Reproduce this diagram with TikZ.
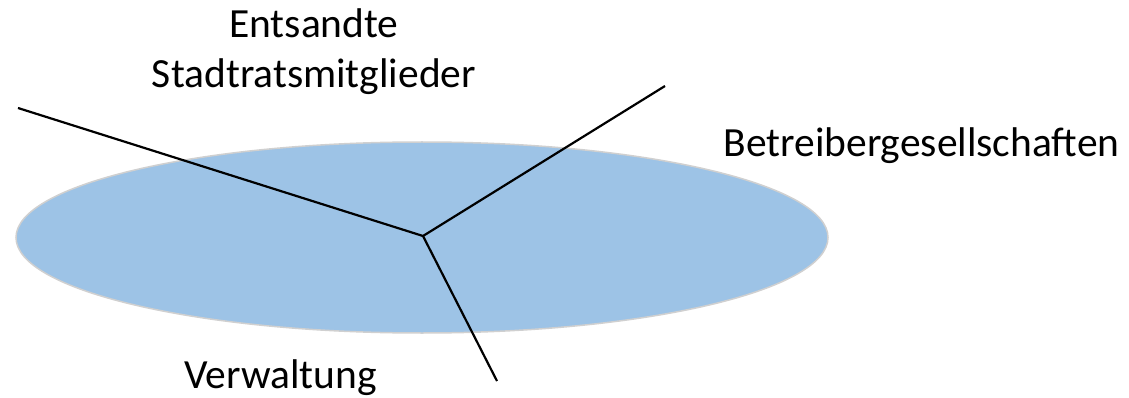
\documentclass[tikz,border=0pt]{standalone}
\usepackage{fontspec}
\setmainfont{Carlito}
\usetikzlibrary{shapes.geometric}
\begin{document}
\begin{tikzpicture}[x=1pt,y=-1pt,
  lbl/.style={font=\fontsize{41.5}{50}\selectfont, inner sep=0pt, anchor=base, align=center},
  spoke/.style={line width=2.2pt, black}]
\useasboundingbox (0,0) rectangle (1129,398);
\node[draw={rgb,255:red,208;green,208;blue,208}, line width=1.5pt, fill={rgb,255:red,157;green,195;blue,230},
  ellipse, minimum width=812pt, minimum height=191pt, inner sep=0pt] (ell) at (422,237.5) {};
\coordinate (c) at (423,236);
\coordinate (ul) at (18,108);
\coordinate (ur) at (665,86);
\coordinate (bt) at (497,381);
\draw[spoke] (ul) -- (c);
\draw[spoke] (ur) -- (c);
\draw[spoke] (bt) -- (c);
\node[lbl] (t1) at (314,38) {Entsandte};
\node[lbl] (t2) at (314,88) {Stadtratsmitglieder};
\node[lbl] (t3) at (921.5,157) {Betreibergesellschaften};
\node[lbl] (t4) at (280.5,388) {Verwaltung};
\end{tikzpicture}
\end{document}
